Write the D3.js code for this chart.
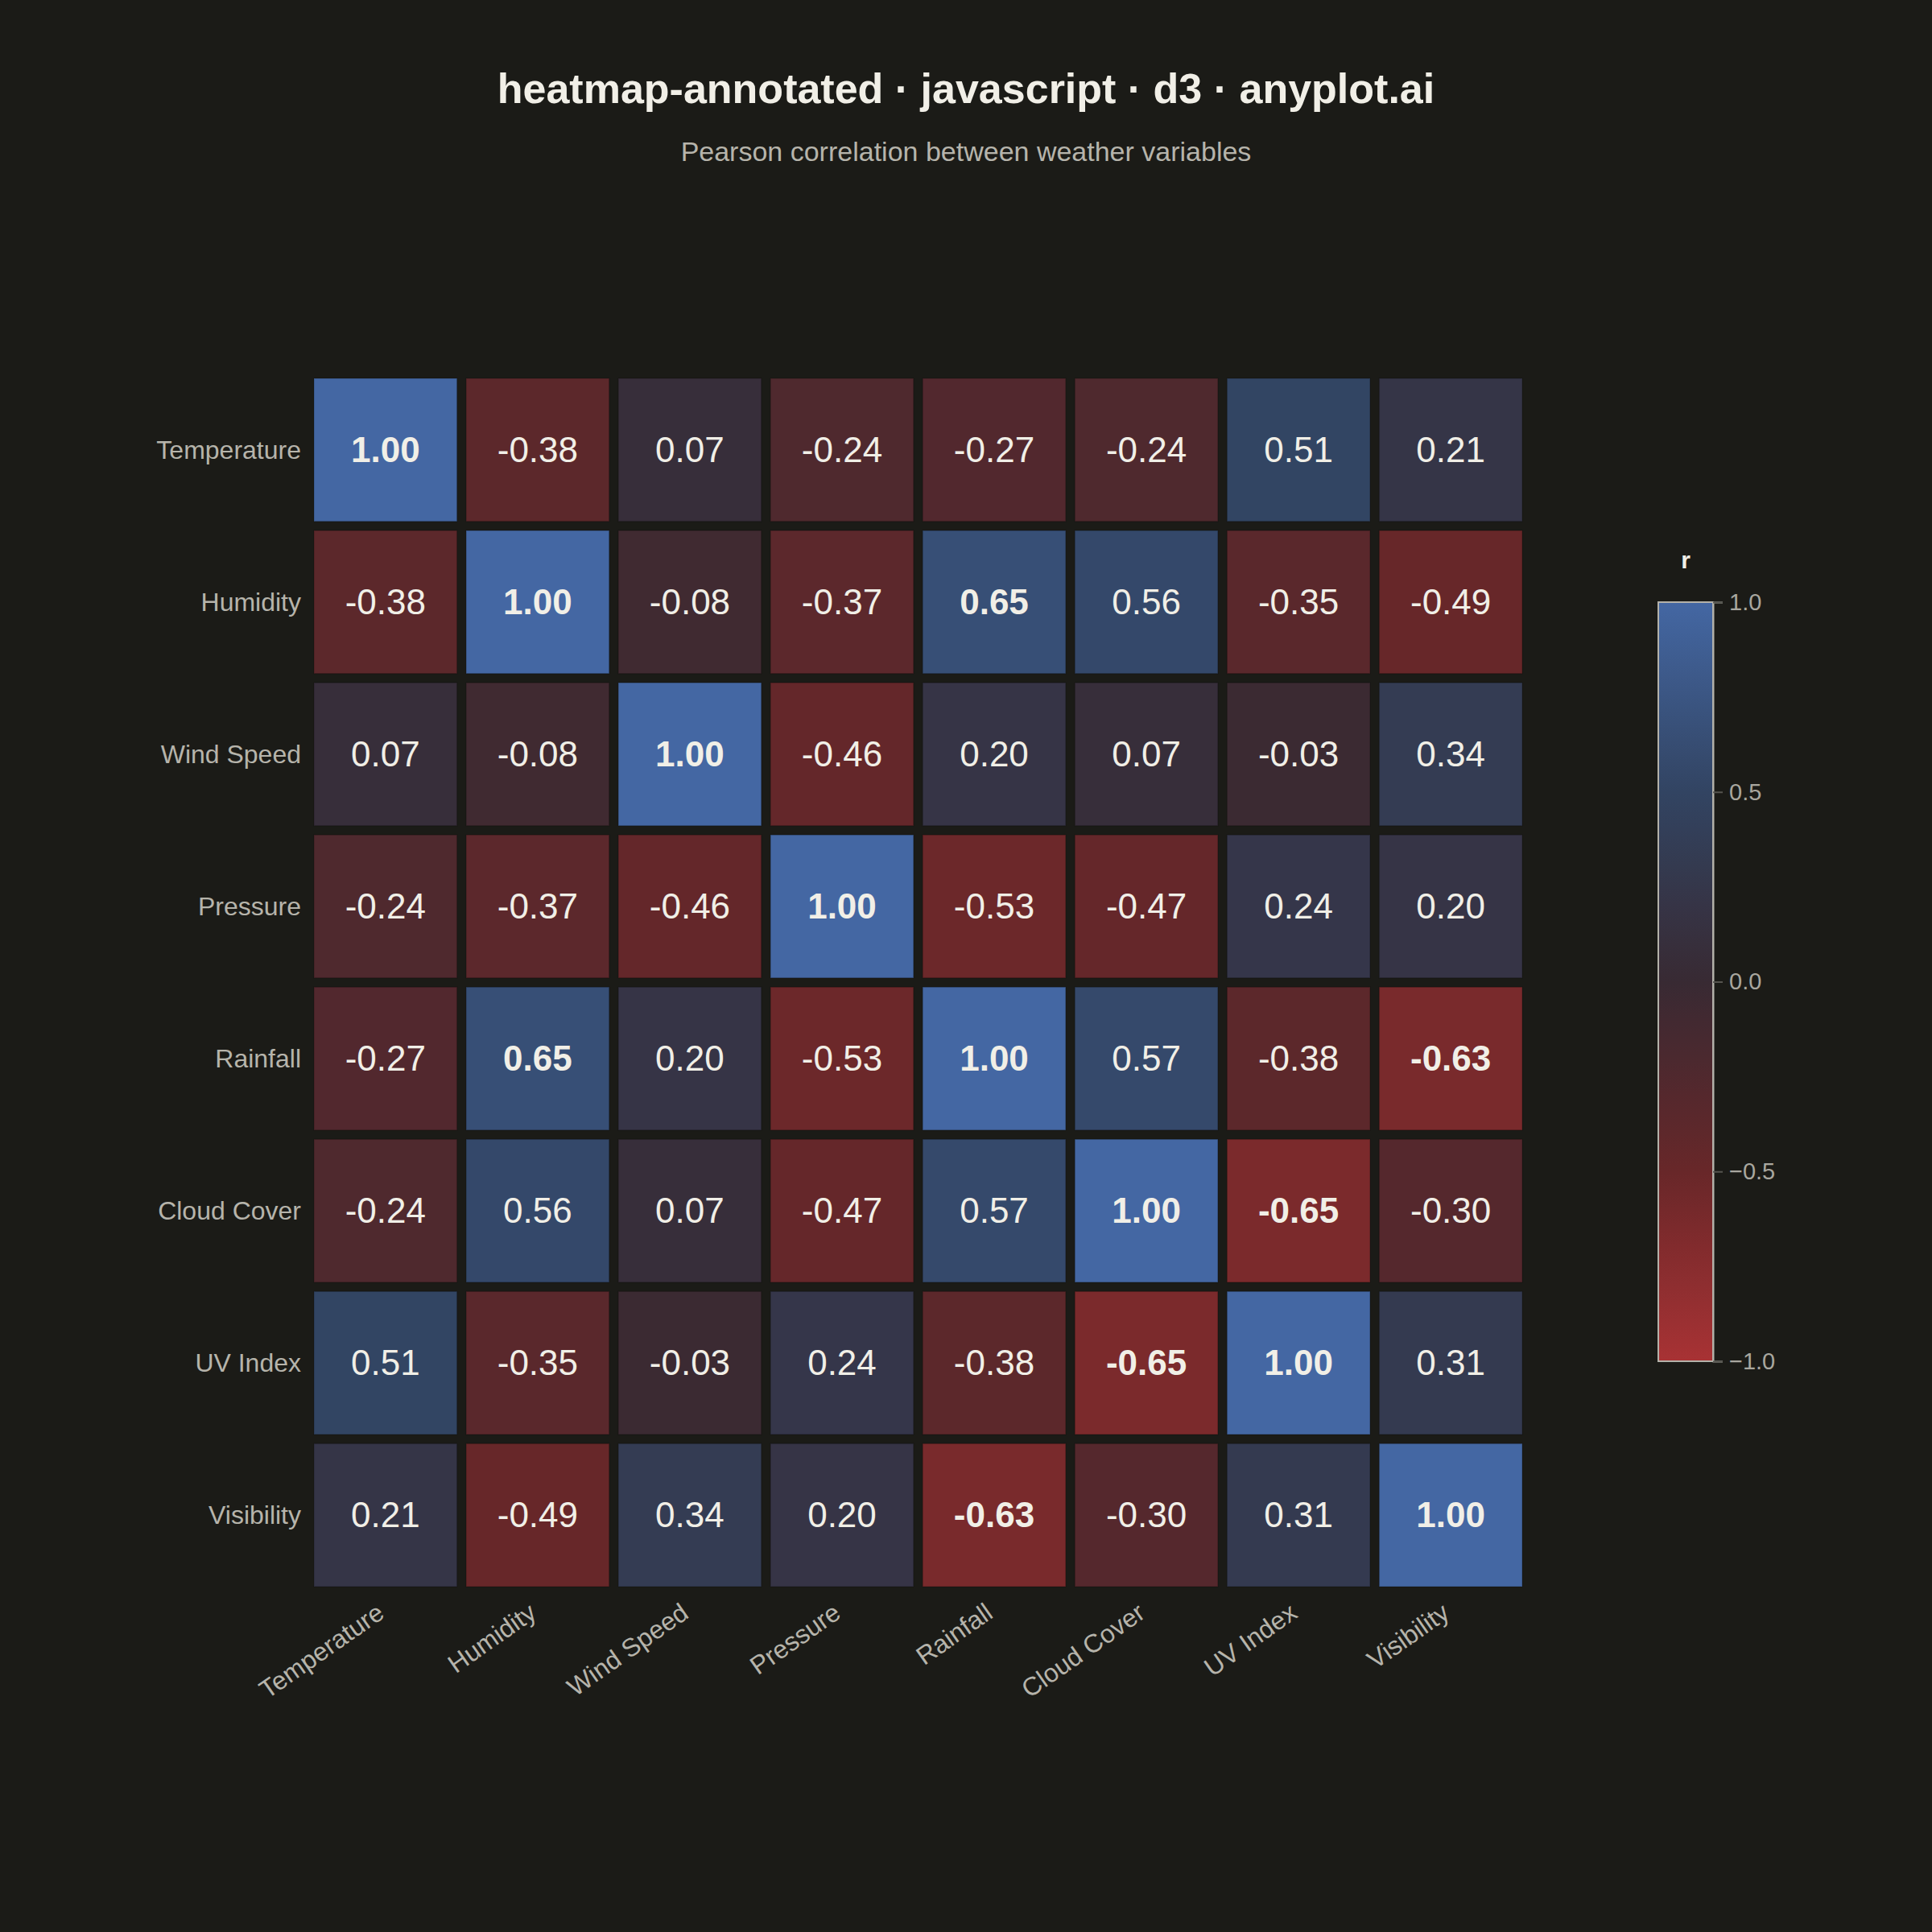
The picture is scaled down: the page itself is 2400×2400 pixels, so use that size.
<!DOCTYPE html>
<html>
<head>
<meta charset="utf-8">
<script src="https://cdn.jsdelivr.net/npm/d3@7"></script>
<style>
  html, body { margin: 0; padding: 0; background: #1b1b17; }
  svg { display: block; }
  text { font-family: "Liberation Sans", Arial, sans-serif; }
</style>
</head>
<body>
<div id="chart"></div>
<script>
// variables shown on both axes
var variables = ["Temperature", "Humidity", "Wind Speed", "Pressure",
                 "Rainfall", "Cloud Cover", "UV Index", "Visibility"];

// Pearson r, one row per variable (same order as above)
var correlations = [
  [ 1.00, -0.38,  0.07, -0.24, -0.27, -0.24,  0.51,  0.21],
  [-0.38,  1.00, -0.08, -0.37,  0.65,  0.56, -0.35, -0.49],
  [ 0.07, -0.08,  1.00, -0.46,  0.20,  0.07, -0.03,  0.34],
  [-0.24, -0.37, -0.46,  1.00, -0.53, -0.47,  0.24,  0.20],
  [-0.27,  0.65,  0.20, -0.53,  1.00,  0.57, -0.38, -0.63],
  [-0.24,  0.56,  0.07, -0.47,  0.57,  1.00, -0.65, -0.30],
  [ 0.51, -0.35, -0.03,  0.24, -0.38, -0.65,  1.00,  0.31],
  [ 0.21, -0.49,  0.34,  0.20, -0.63, -0.30,  0.31,  1.00]
];

var colorDomain = [-1, -0.5, 0, 0.5, 1];
var colorTicks = [-1, -0.5, 0, 0.5, 1];

var width = 2400,
    height = 2400,
    grid = {left: 390, top: 470, size: 1501},
    bar = {x: 2060, y: 748, w: 68, h: 943},
    bg = "#1b1b17",
    ink = "#f1efe7",
    muted = "#b6b4ab";

var color = d3.scaleLinear()
    .domain(colorDomain)
    .range(["#a83234", "#682729", "#382a33", "#324462", "#4467a3"])
    .clamp(true);

var x = d3.scaleBand()
    .domain(variables)
    .range([grid.left, grid.left + grid.size])
    .paddingInner(0.06);

var y = d3.scaleBand()
    .domain(variables)
    .range([grid.top, grid.top + grid.size])
    .paddingInner(0.06);

var svg = d3.select("#chart").append("svg")
    .attr("width", width)
    .attr("height", height);

svg.append("rect")
    .attr("width", width)
    .attr("height", height)
    .attr("fill", bg);

// titles
svg.append("text")
    .attr("x", width / 2)
    .attr("y", 128)
    .attr("text-anchor", "middle")
    .attr("fill", ink)
    .style("font-size", "52px")
    .style("font-weight", "bold")
    .text("heatmap-annotated · javascript · d3 · anyplot.ai");

svg.append("text")
    .attr("x", width / 2)
    .attr("y", 200)
    .attr("text-anchor", "middle")
    .attr("fill", muted)
    .style("font-size", "34px")
    .text("Pearson correlation between weather variables");

// flatten matrix into cells
var cells = [];
correlations.forEach(function(row, i) {
  row.forEach(function(v, j) {
    cells.push({row: variables[i], col: variables[j], value: v});
  });
});

var cell = svg.append("g").attr("class", "cells")
  .selectAll("g")
  .data(cells)
  .enter().append("g");

cell.append("rect")
    .attr("x", function(d) { return x(d.col); })
    .attr("y", function(d) { return y(d.row); })
    .attr("width", x.bandwidth())
    .attr("height", y.bandwidth())
    .attr("fill", function(d) { return color(d.value); })
    .attr("stroke", "rgba(0,0,0,0.18)")
    .attr("stroke-width", 1.5);

cell.append("text")
    .attr("x", function(d) { return x(d.col) + x.bandwidth() / 2; })
    .attr("y", function(d) { return y(d.row) + y.bandwidth() / 2; })
    .attr("dy", "0.34em")
    .attr("text-anchor", "middle")
    .attr("fill", ink)
    .style("font-size", "44px")
    .style("font-weight", function(d) { return Math.abs(d.value) >= 0.6 ? "bold" : "normal"; })
    .text(function(d) { return d.value.toFixed(2); });

// row labels
svg.append("g").selectAll("text")
  .data(variables)
  .enter().append("text")
    .attr("x", grid.left - 16)
    .attr("y", function(d) { return y(d) + y.bandwidth() / 2; })
    .attr("dy", "0.35em")
    .attr("text-anchor", "end")
    .attr("fill", muted)
    .style("font-size", "32px")
    .text(function(d) { return d; });

// column labels, rotated
svg.append("g").selectAll("text")
  .data(variables)
  .enter().append("text")
    .attr("transform", function(d) {
      return "translate(" + (x(d) + x.bandwidth() / 2 - 6) + "," + (grid.top + grid.size + 28) + ") rotate(-35)";
    })
    .attr("dy", "0.35em")
    .attr("text-anchor", "end")
    .attr("fill", muted)
    .style("font-size", "32px")
    .text(function(d) { return d; });

// colour bar
var defs = svg.append("defs");
var grad = defs.append("linearGradient")
    .attr("id", "rgrad")
    .attr("x1", "0").attr("y1", "1")
    .attr("x2", "0").attr("y2", "0");

d3.range(0, 1.0001, 0.05).forEach(function(t) {
  grad.append("stop")
      .attr("offset", t)
      .attr("stop-color", color(-1 + 2 * t));
});

var cy = d3.scaleLinear()
    .domain([-1, 1])
    .range([bar.y + bar.h, bar.y]);

svg.append("rect")
    .attr("x", bar.x)
    .attr("y", bar.y)
    .attr("width", bar.w)
    .attr("height", bar.h)
    .attr("fill", "url(#rgrad)")
    .attr("stroke", "#b3b1a9")
    .attr("stroke-width", 2);

var axis = svg.append("g")
    .attr("transform", "translate(" + (bar.x + bar.w) + ",0)")
    .call(d3.axisRight(cy).tickValues(colorTicks).tickSize(12).tickPadding(8)
      .tickFormat(d3.format(".1f")));

axis.select(".domain").attr("stroke", "#b3b1a9").attr("stroke-width", 2);
axis.selectAll(".tick line").attr("stroke", "#55544f").attr("stroke-width", 2);
axis.selectAll(".tick text")
    .attr("fill", "#a9a79f")
    .style("font-size", "29px")
    .style("font-family", "'Liberation Sans', Arial, sans-serif");

svg.append("text")
    .attr("x", bar.x + bar.w / 2)
    .attr("y", 706)
    .attr("text-anchor", "middle")
    .attr("fill", ink)
    .style("font-size", "30px")
    .style("font-weight", "bold")
    .text("r");
</script>
</body>
</html>
